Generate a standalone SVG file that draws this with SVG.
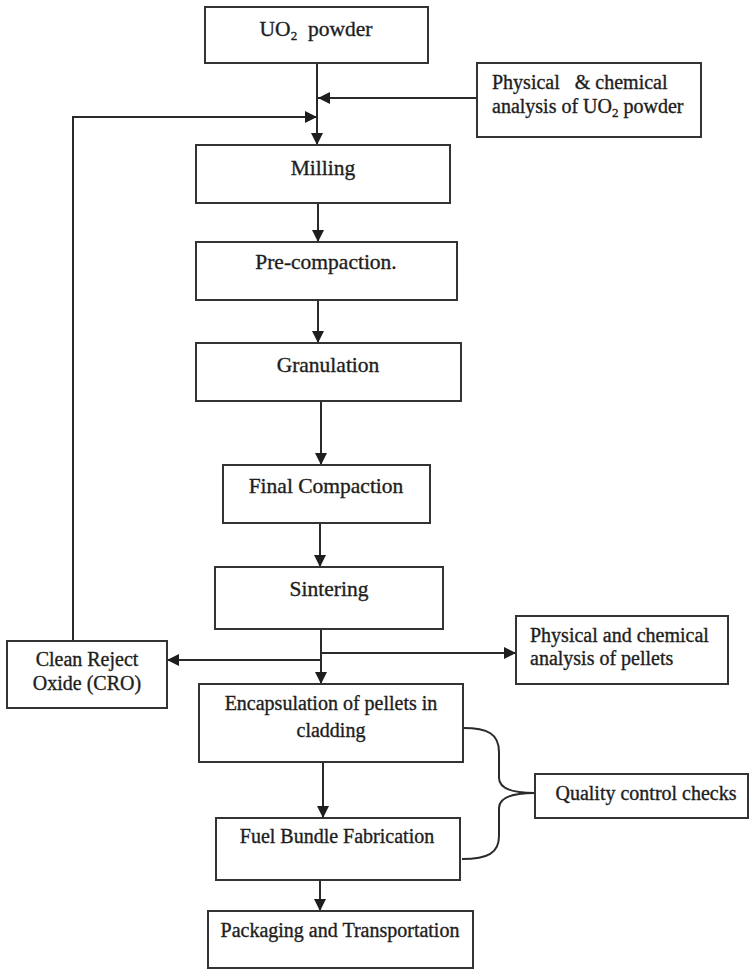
<svg xmlns="http://www.w3.org/2000/svg" width="750" height="970" viewBox="0 0 750 970">
  <style>
    .box { fill: #ffffff; stroke: #333333; stroke-width: 2; }
    .lbl { font-family: "Liberation Serif", "Times New Roman", serif; font-size: 20px; fill: #1e1e1e; stroke: #1e1e1e; stroke-width: 0.35; text-anchor: middle; }
    .big { font-size: 21.5px; }
    .lft { text-anchor: start; }
    .sub { font-size: 13px; }
    .wire { fill: none; stroke: #2a2a2a; stroke-width: 2; }
  </style>
  <defs>
    <marker id="arr" viewBox="0 0 10 10" refX="10" refY="5" markerWidth="6" markerHeight="6" markerUnits="strokeWidth" orient="auto">
      <path d="M0,0 L10,5 L0,10 Z" fill="#1e1e1e"/>
    </marker>
  </defs>
  <rect width="750" height="970" fill="#ffffff"/>

  <g id="connectors">
    <!-- main flow -->
    <line class="wire" x1="317" y1="63" x2="317" y2="145" marker-end="url(#arr)"/>
    <line class="wire" x1="477" y1="98" x2="318" y2="98" marker-end="url(#arr)"/>
    <polyline class="wire" points="73,641 73,117 317,117" marker-end="url(#arr)"/>
    <line class="wire" x1="318" y1="203" x2="318" y2="242" marker-end="url(#arr)"/>
    <line class="wire" x1="318" y1="300" x2="318" y2="343" marker-end="url(#arr)"/>
    <line class="wire" x1="321" y1="401" x2="321" y2="465" marker-end="url(#arr)"/>
    <line class="wire" x1="320" y1="523" x2="320" y2="567" marker-end="url(#arr)"/>
    <line class="wire" x1="321" y1="629" x2="321" y2="684" marker-end="url(#arr)"/>
    <line class="wire" x1="321" y1="653" x2="516" y2="653" marker-end="url(#arr)"/>
    <line class="wire" x1="321" y1="660" x2="167" y2="660" marker-end="url(#arr)"/>
    <line class="wire" x1="323" y1="762" x2="323" y2="818" marker-end="url(#arr)"/>
    <line class="wire" x1="320" y1="880" x2="320" y2="911" marker-end="url(#arr)"/>
    <!-- brace joining the two checked steps -->
    <path class="wire" d="M463,728 C488,728 499,734 499,752 L499,778 C499,788 512,793 535,793"/>
    <path class="wire" d="M462,859 C488,859 499,853 499,836 L499,808 C499,798 512,793 535,793"/>
  </g>

  <g id="uo2-powder">
    <rect class="box" x="205" y="7" width="223" height="56"/>
    <text class="lbl big" x="316" y="36" xml:space="preserve">UO<tspan class="sub" dy="4">2</tspan><tspan dy="-4">  powder</tspan></text>
  </g>

  <g id="powder-analysis">
    <rect class="box" x="477" y="63" width="224" height="74"/>
    <text class="lbl lft" x="492" y="89" xml:space="preserve">Physical   &amp; chemical</text>
    <text class="lbl lft" x="492" y="113">analysis of UO<tspan class="sub" dy="4">2</tspan><tspan dy="-4"> powder</tspan></text>
  </g>

  <g id="milling">
    <rect class="box" x="196" y="145" width="254" height="58"/>
    <text class="lbl big" x="323" y="175">Milling</text>
  </g>

  <g id="pre-compaction">
    <rect class="box" x="196" y="242" width="261" height="58"/>
    <text class="lbl big" x="326" y="269">Pre-compaction.</text>
  </g>

  <g id="granulation">
    <rect class="box" x="196" y="343" width="265" height="58"/>
    <text class="lbl big" x="328" y="372">Granulation</text>
  </g>

  <g id="final-compaction">
    <rect class="box" x="223" y="465" width="207" height="58"/>
    <text class="lbl big" x="326" y="493">Final Compaction</text>
  </g>

  <g id="sintering">
    <rect class="box" x="215" y="567" width="228" height="62"/>
    <text class="lbl big" x="329" y="596">Sintering</text>
  </g>

  <g id="clean-reject-oxide">
    <rect class="box" x="7" y="641" width="160" height="67"/>
    <text class="lbl" x="87" y="666">Clean Reject</text>
    <text class="lbl" x="87" y="690">Oxide (CRO)</text>
  </g>

  <g id="pellet-analysis">
    <rect class="box" x="516" y="616" width="212" height="68"/>
    <text class="lbl lft" x="530" y="642">Physical and chemical</text>
    <text class="lbl lft" x="530" y="665">analysis of pellets</text>
  </g>

  <g id="encapsulation">
    <rect class="box" x="199" y="684" width="264" height="78"/>
    <text class="lbl" x="331" y="710">Encapsulation of pellets in</text>
    <text class="lbl" x="331" y="737">cladding</text>
  </g>

  <g id="quality-control">
    <rect class="box" x="535" y="774" width="213" height="44"/>
    <text class="lbl" x="646" y="800">Quality control checks</text>
  </g>

  <g id="fuel-bundle">
    <rect class="box" x="216" y="818" width="244" height="62"/>
    <text class="lbl" x="337" y="843">Fuel Bundle Fabrication</text>
  </g>

  <g id="packaging">
    <rect class="box" x="208" y="911" width="265" height="57"/>
    <text class="lbl" x="340" y="937">Packaging and Transportation</text>
  </g>
</svg>
